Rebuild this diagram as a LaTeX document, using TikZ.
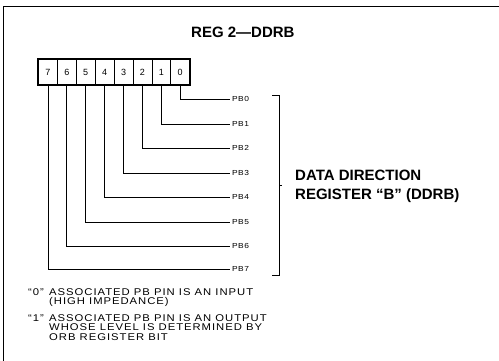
\documentclass[tikz,border=0pt]{standalone}
\usepackage{fontspec}
\setmainfont{Liberation Sans}
\newfontfamily\smallfont[FakeStretch=1.15,LetterSpace=10]{Liberation Sans}
\newfontfamily\pbfont[FakeStretch=1.15,LetterSpace=6]{Liberation Sans}
\begin{document}
\begin{tikzpicture}[x=1pt,y=-1pt,
  cell/.style={draw,line width=0.8pt,minimum width=18.9pt,minimum height=26pt,inner sep=0pt,font=\fontsize{9}{10}\selectfont},
  pblabel/.style={anchor=west,inner sep=2pt,font=\pbfont\fontsize{7.3}{8}\selectfont},
  bigtext/.style={anchor=base west,inner sep=0pt,font=\bfseries\fontsize{15}{17}\selectfont},
  note/.style={anchor=base west,inner sep=0pt,font=\smallfont\fontsize{9.8}{10}\selectfont},
  wire/.style={line width=0.8pt}]
\useasboundingbox (0,0) rectangle (499,360);
\clip (0,0) rectangle (499,360);
% frame
\draw[line width=0.9pt] (3,6) rectangle (505,370);
% title
\node[bigtext] (title) at (191,37) {REG 2—DDRB};
% register cells
\foreach \i in {0,...,7}{
  \node[cell] (c\i) at ({38.5+18.9*(7-\i)+9.45},72) {\i};
}
\draw[line width=2pt] (c7.north west) rectangle (c0.south east);
% PB labels and wires
\foreach \i/\yy in {0/99,1/124,2/148,3/173,4/197,5/222,6/246,7/269}{
  \node[pblabel] (pb\i) at (230,\yy) {PB\i};
  \draw[wire] (c\i.south) |- (pb\i.west);
}
% bracket
\coordinate (bt) at (279,95);
\coordinate (bb) at (279,275);
\coordinate (bm) at (279,185);
\draw[line width=1pt] ([xshift=-7pt]bt) -- (bt) -- (bb) -- ([xshift=-7pt]bb);
\draw[line width=1pt] (bm) -- ([xshift=3pt]bm);
\node[bigtext] (dd1) at (295,180) {DATA DIRECTION};
\node[bigtext] (dd2) at (295,199) {REGISTER “B” (DDRB)};
% notes
\node[note] (q0) at (28,295.3) {“0”};
\node[note] (n0a) at (49,295.3) {ASSOCIATED PB PIN IS AN INPUT};
\node[note] (n0b) at (49,304.6) {(HIGH IMPEDANCE)};
\node[note] (q1) at (28,321) {“1”};
\node[note] (n1a) at (49,321) {ASSOCIATED PB PIN IS AN OUTPUT};
\node[note] (n1b) at (49,330.6) {WHOSE LEVEL IS DETERMINED BY};
\node[note] (n1c) at (49,340.7) {ORB REGISTER BIT};
\end{tikzpicture}
\end{document}
